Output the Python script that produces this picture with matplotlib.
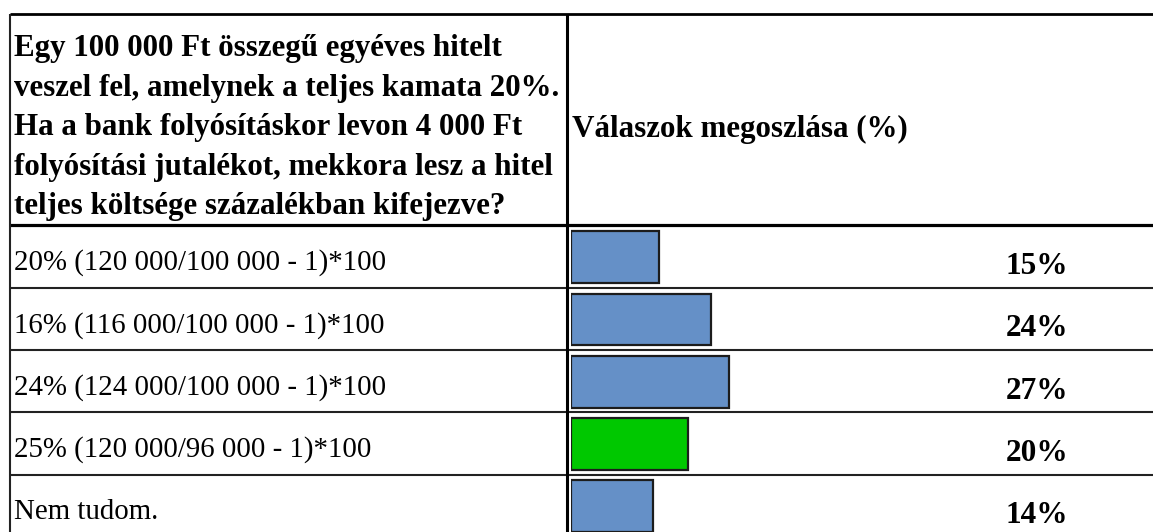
import matplotlib
matplotlib.use("Agg")
import matplotlib.pyplot as plt

# Survey question and answer distribution
question_lines = [
    "Egy 100 000 Ft összegű egyéves hitelt",
    "veszel fel, amelynek a teljes kamata 20%.",
    "Ha a bank folyósításkor levon 4 000 Ft",
    "folyósítási jutalékot, mekkora lesz a hitel",
    "teljes költsége százalékban kifejezve?",
]
column_title = "Válaszok megoszlása (%)"
answers = [
    "20% (120 000/100 000 - 1)*100",
    "16% (116 000/100 000 - 1)*100",
    "24% (124 000/100 000 - 1)*100",
    "25% (120 000/96 000 - 1)*100",
    "Nem tudom.",
]
shares = [15, 24, 27, 20, 14]
correct_index = 3

W, H = 1153, 532
DPI = 100
BLUE = "#6590c7"
GREEN = "#00c800"
EDGE = "#1c1c1c"

# table geometry in pixels
left_x = 9.5
divider_x = 566.5
top_y = 13.5
header_bottom = 224.5
row_h = 62.3
bar_left = 571
px_per_pct = 5.84

fig = plt.figure(figsize=(W / DPI, H / DPI), dpi=DPI)
fig.patch.set_facecolor("white")

# background axes in pixel units for the table frame and text
bg = fig.add_axes([0, 0, 1, 1])
bg.set_xlim(0, W)
bg.set_ylim(H, 0)
bg.axis("off")

serif = ["Liberation Serif", "DejaVu Serif"]

# bar axes: one row per answer, x in percent
bar_top = header_bottom + 1.5
ax = fig.add_axes([bar_left / W, 1 - (bar_top + row_h * len(answers)) / H,
                   (W - bar_left) / W, row_h * len(answers) / H])
ax.set_xlim(0, (W - bar_left) / px_per_pct)
ax.set_ylim(len(answers) - 0.5, -0.5)
ax.axis("off")
colors = [GREEN if i == correct_index else BLUE for i in range(len(answers))]
ax.barh(range(len(answers)), shares, height=0.83, color=colors,
        edgecolor=EDGE, linewidth=1.6, align="center")

# frame lines
bg.plot([left_x, W], [top_y, top_y], color="black", lw=2.0, solid_capstyle="butt")
bg.plot([left_x, W], [header_bottom, header_bottom], color="black", lw=2.3,
        solid_capstyle="butt")
for i in range(1, len(answers)):
    y = bar_top + row_h * i - 0.5
    bg.plot([left_x, W], [y, y], color="#222222", lw=1.5, solid_capstyle="butt")
bg.plot([left_x, left_x], [top_y, H], color="#222222", lw=1.5, solid_capstyle="butt")
bg.plot([divider_x, divider_x], [top_y, H], color="black", lw=2.2, solid_capstyle="butt")

# header texts
for i, line in enumerate(question_lines):
    bg.text(14.5, 56 + 39.6 * i, line, family=serif, weight="bold", fontsize=22.3,
            ha="left", va="baseline", color="black")
bg.text(572, 137, column_title, family=serif, weight="bold", fontsize=22.3,
        ha="left", va="baseline", color="black")

# answer rows and percentage labels
for i, (label, v) in enumerate(zip(answers, shares)):
    yc = bar_top + row_h * (i + 0.5)
    bg.text(14, yc + 13, label, family=serif, fontsize=20.8, ha="left",
            va="baseline", color="black")
    bg.text(1037, yc + 17, f"{v}%", family=serif, weight="bold", fontsize=22.5,
            ha="center", va="baseline", color="black")

fig.savefig("out.png", dpi=DPI, facecolor="white")
